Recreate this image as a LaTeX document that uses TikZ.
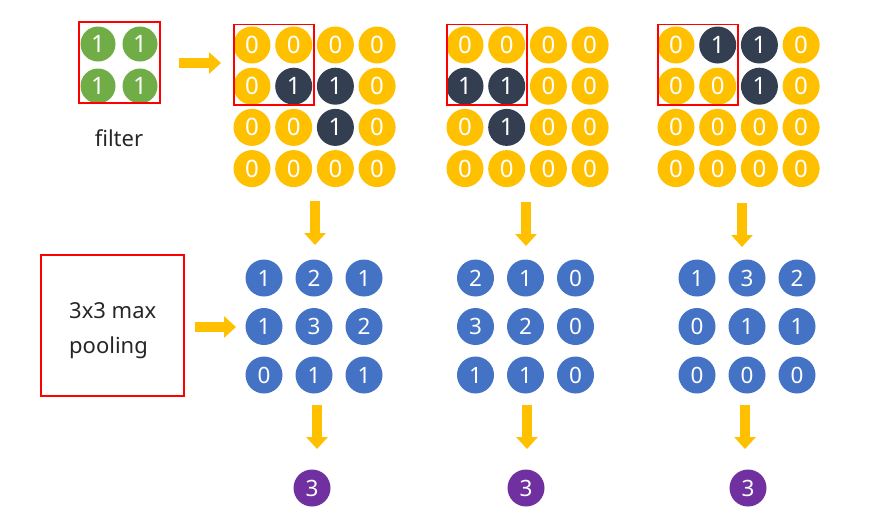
\documentclass[tikz,border=0pt]{standalone}
\usepackage{fontspec}
\setmainfont{Noto Sans}
\usetikzlibrary{arrows.meta}
\definecolor{cyellow}{HTML}{FFC000}
\definecolor{cdark}{HTML}{333F50}
\definecolor{cgreen}{HTML}{70AD47}
\definecolor{cblue}{HTML}{4472C4}
\definecolor{cpurple}{HTML}{7030A0}
\definecolor{cred}{HTML}{FF0000}
\tikzset{
  cell/.style={circle, minimum size=37pt, inner sep=0pt, text=white,
    font=\fontsize{24}{24}\selectfont},
  grn/.style={cell, fill=cgreen, minimum size=35pt},
  blu/.style={cell, fill=cblue, font=\fontsize{22.5}{22}\selectfont},
  pur/.style={cell, fill=cpurple, font=\fontsize{22.5}{22}\selectfont},
  redbox/.style={draw=cred, line width=1.1pt},
  blockarrow/.style={draw=cyellow, line width=10pt,
    -{Triangle[length=12pt,width=21pt]}},
  label/.style={text=black!85, font=\fontsize{22}{22}\selectfont, inner sep=0pt},
}
\begin{document}
\begin{tikzpicture}[x=1pt,y=-1pt]
\useasboundingbox (0,0) rectangle (888,528);

% filter
\node[grn] (f11) at (98,44) {1};
\node[grn] (f12) at (140,44) {1};
\node[grn] (f21) at (98,86) {1};
\node[grn] (f22) at (140,86) {1};
\draw[redbox] (79,22) rectangle (160,103);
\node[label, anchor=base] (filt) at (119,146) {filter};

% input grids
\foreach \g/\xo/\vals in {a/252/{0,0,0,0,0,1,1,0,0,0,1,0,0,0,0,0},
                          b/465/{0,0,0,0,1,1,0,0,0,1,0,0,0,0,0,0},
                          c/676/{0,1,1,0,0,0,1,0,0,0,0,0,0,0,0,0}} {
  \foreach \v [count=\k from 0] in \vals {
    \pgfmathtruncatemacro\rr{floor(\k/4)}
    \pgfmathtruncatemacro\cc{\k-4*\rr}
    \ifnum\v=1 \def\fc{cdark}\else\def\fc{cyellow}\fi
    \node[cell, fill=\fc] (\g-\rr-\cc) at ({\xo+41.7*\cc},{45+41.2*\rr}) {\v};
  }
  \draw[redbox] ({\xo-18},24.5) rectangle ({\xo+62},105);
}

% pooled grids
\foreach \g/\xo/\vals in {p/264/{1,2,1,1,3,2,0,1,1},
                          q/475.5/{2,1,0,3,2,0,1,1,0},
                          r/697/{1,3,2,0,1,1,0,0,0}} {
  \foreach \v [count=\k from 0] in \vals {
    \pgfmathtruncatemacro\rr{floor(\k/3)}
    \pgfmathtruncatemacro\cc{\k-3*\rr}
    \node[blu] (\g-\rr-\cc) at ({\xo+50*\cc},{278+48.5*\rr}) {\v};
  }
}

% results
\node[pur] (res1) at (312,488) {3};
\node[pur] (res2) at (526,488) {3};
\node[pur] (res3) at (748,488) {3};

% pooling box
\node[redbox, minimum width=143pt, minimum height=141pt] (pool) at (112.5,325.5) {};
\node[label, anchor=base west] (pt1) at (69,318) {3x3 max};
\node[label, anchor=base west] (pt2) at (69,353) {pooling};

% arrows
\coordinate (h1s) at (179,63);  \coordinate (h1e) at (221,63);
\coordinate (h2s) at (195,327); \coordinate (h2e) at (236,327);
\coordinate (d1s) at (315,201); \coordinate (d1e) at (315,245);
\coordinate (d2s) at (526,202); \coordinate (d2e) at (526,246);
\coordinate (d3s) at (742,203); \coordinate (d3e) at (742,247);
\coordinate (e1s) at (317,405); \coordinate (e1e) at (317,449);
\coordinate (e2s) at (527,405); \coordinate (e2e) at (527,449);
\coordinate (e3s) at (745,405); \coordinate (e3e) at (745,449);
\foreach \s in {h1,h2,d1,d2,d3,e1,e2,e3}
  \draw[blockarrow] (\s s) -- (\s e);
\end{tikzpicture}
\end{document}
